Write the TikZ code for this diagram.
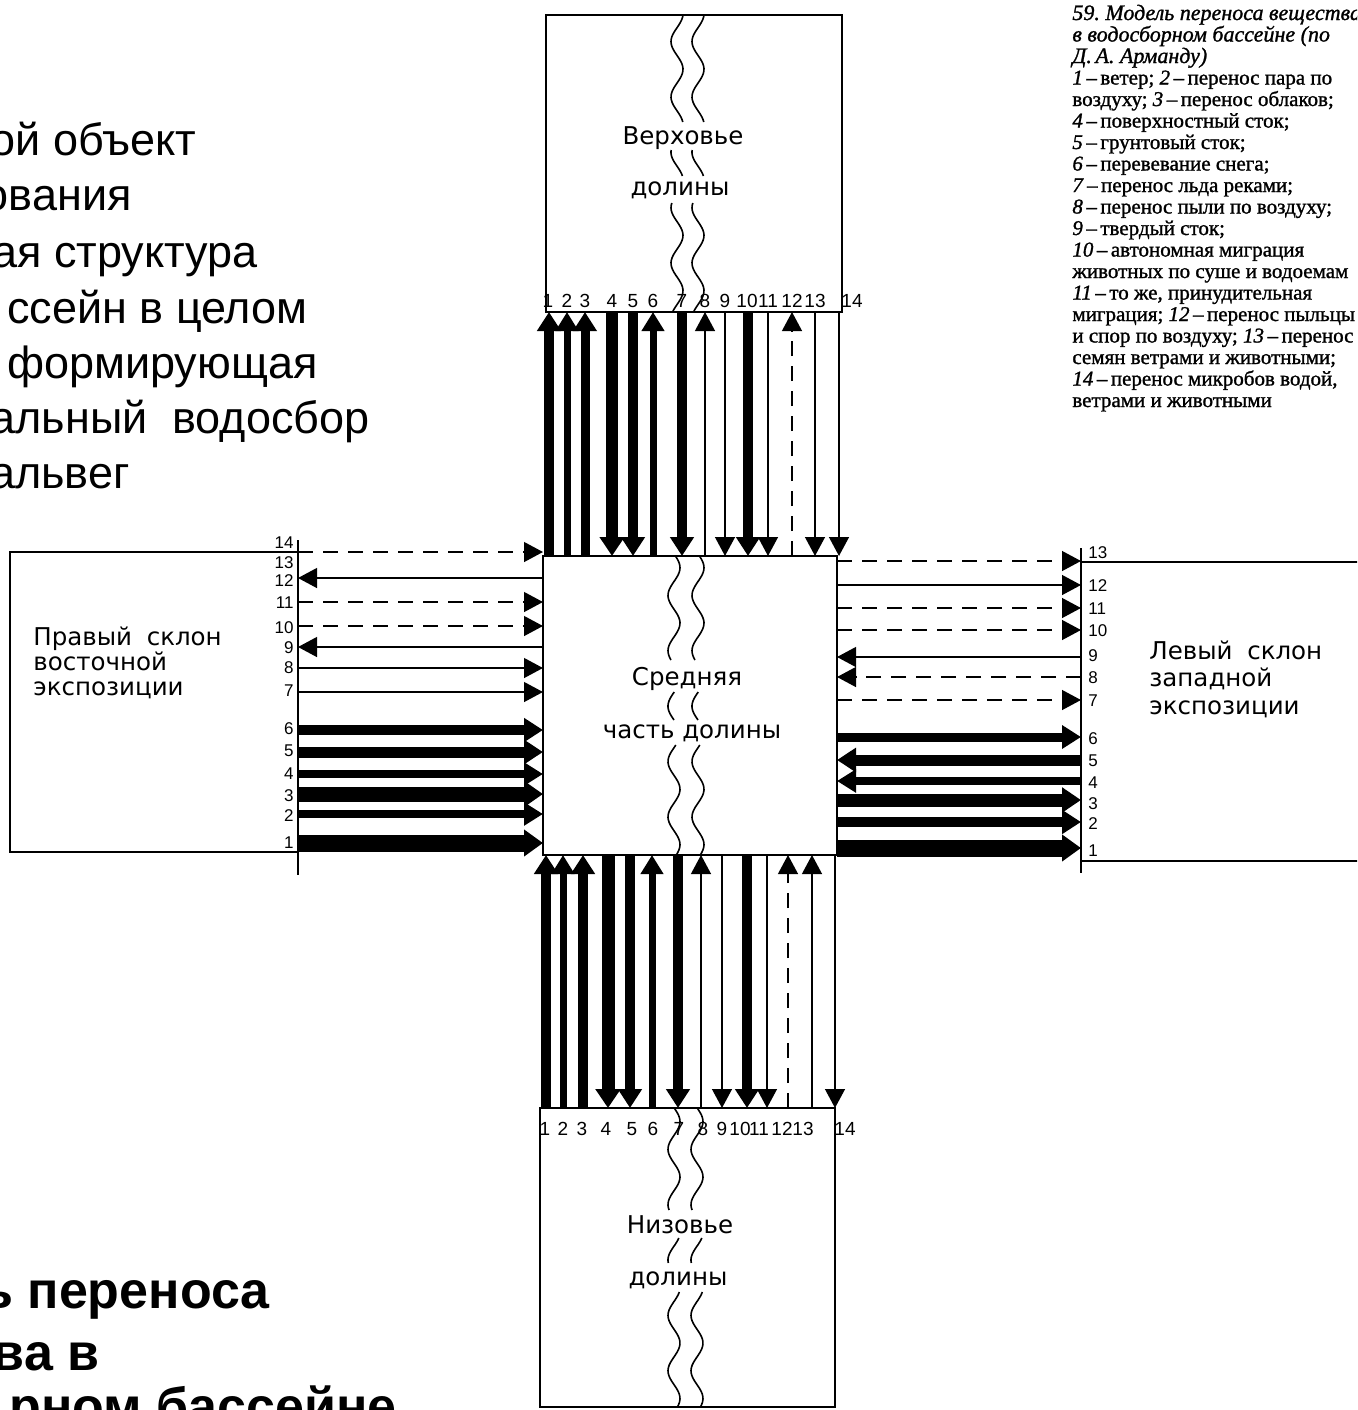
\documentclass[tikz,border=0pt]{standalone}
\usepackage{fontspec}
\setmainfont{Liberation Serif}
\newfontfamily\slidefont{Liberation Sans}
\newfontfamily\letfont{DejaVu Sans}
\newfontfamily\bookfont[FakeBold=1.2]{Liberation Serif}
\usetikzlibrary{arrows.meta}
\newcommand\wavyline[3]{\draw[rivline] plot[variable=\t, domain=#2:#3, samples=45, smooth] ({#1+6*sin(6.5*\t)},{\t});}
\begin{document}
\begin{tikzpicture}[x=0.5pt, y=-0.5pt,
  box/.style={draw=black, line width=1pt, inner sep=0pt, outer sep=0pt},
  arr/.style={-{Triangle[width=9.5pt 0.4, length=9.5pt]}},
  dsh/.style={dash pattern=on 7.5pt off 5pt},
  rivline/.style={line width=0.8pt},
  lbl/.style={font=\letfont\fontsize{12.25pt}{13pt}\selectfont, inner sep=0pt},
  num/.style={font=\slidefont\fontsize{9.5pt}{10pt}\selectfont, inner sep=0pt},
  snum/.style={font=\slidefont\fontsize{8.5pt}{9pt}\selectfont, inner sep=0pt},
  slide/.style={font=\slidefont\fontsize{22.5pt}{26pt}\selectfont, inner sep=0pt, anchor=base east},
  bslide/.style={font=\slidefont\bfseries\fontsize{26pt}{30pt}\selectfont, inner sep=0pt, anchor=base east},
  legend/.style={font=\bookfont\fontsize{10.5pt}{10.75pt}\selectfont, inner sep=0pt, anchor=base west},
  legendh/.style={font=\bookfont\fontsize{11pt}{11pt}\selectfont, inner sep=0pt, anchor=base west},
]
\useasboundingbox (0,0) rectangle (1357,1410);
\fill[white] (0,0) rectangle (1357,1410);
\clip (0,0) rectangle (1357,1410);

% boxes
\node[box, minimum width=148pt, minimum height=148.5pt] (top) at (694,163.5) {};
\node[box, minimum width=147pt, minimum height=149.5pt] (mid) at (690,705.5) {};
\node[box, minimum width=147.5pt, minimum height=149.5pt] (bot) at (687.5,1257.5) {};
\node[box, minimum width=144pt, minimum height=150pt] (lft) at (154,702) {};
\node[box, minimum width=159.5pt, minimum height=149.5pt] (rgt) at (1240.5,711.5) {};
\draw[box] (lft.east |- 0,540) -- (lft.east |- 0,875);
\draw[box] (rgt.west |- 0,548) -- (rgt.west |- 0,873);

% rivers
\wavyline{677}{15}{122}\wavyline{677}{150}{176}\wavyline{677}{203}{312}
\wavyline{698}{15}{122}\wavyline{698}{150}{176}\wavyline{698}{203}{312}
\wavyline{674}{556}{660}\wavyline{674}{692}{720}\wavyline{674}{745}{855}
\wavyline{698}{556}{660}\wavyline{698}{692}{720}\wavyline{698}{745}{855}
\wavyline{674}{1108}{1210}\wavyline{674}{1238}{1263}\wavyline{674}{1292}{1407}
\wavyline{697}{1108}{1210}\wavyline{697}{1238}{1263}\wavyline{697}{1292}{1407}

% box texts
\node[lbl, anchor=base] (tv1) at (683,144) {Верховье};
\node[lbl, anchor=base] (tv2) at (680,195) {долины};
\node[lbl, anchor=base] (mv1) at (687,685) {Средняя};
\node[lbl, anchor=base] (mv2) at (692,738) {часть долины};
\node[lbl, anchor=base] (bv1) at (680,1233) {Низовье};
\node[lbl, anchor=base] (bv2) at (678,1285) {долины};
\node[lbl, anchor=base west] (lt1) at (33,645) {Правый\hspace{0.6em}склон};
\node[lbl, anchor=base west] (lt2) at (33,670) {восточной};
\node[lbl, anchor=base west] (lt3) at (33,695) {экспозиции};
\node[lbl, anchor=base west] (rt1) at (1149,659) {Левый\hspace{0.6em}склон};
\node[lbl, anchor=base west] (rt2) at (1149,686) {западной};
\node[lbl, anchor=base west] (rt3) at (1149,714) {экспозиции};

% top vertical arrows
\foreach \x/\w/\a/\b/\s in {549/5/mid.north/top.south/solid, 567/3.5/mid.north/top.south/solid,
  585/4.5/mid.north/top.south/solid, 612/6/top.south/mid.north/solid, 633/5/top.south/mid.north/solid,
  653/3.5/mid.north/top.south/solid, 682/5/top.south/mid.north/solid, 705/1/mid.north/top.south/solid,
  725/1/top.south/mid.north/solid, 748/5/top.south/mid.north/solid, 768/1/top.south/mid.north/solid,
  792/1/mid.north/top.south/dsh, 815/1/top.south/mid.north/solid, 839/1/top.south/mid.north/solid}
  {\draw[arr, line width=\w pt, \s] (\x,0 |- \a) -- (\x,0 |- \b);}

% bottom vertical arrows
\foreach \x/\w/\a/\b/\s in {546/5/bot.north/mid.south/solid, 563/3.5/bot.north/mid.south/solid,
  583/5/bot.north/mid.south/solid, 608/6.5/mid.south/bot.north/solid, 630/5/mid.south/bot.north/solid,
  652/3.5/bot.north/mid.south/solid, 678/5/mid.south/bot.north/solid, 701/1/bot.north/mid.south/solid,
  722/1/mid.south/bot.north/solid, 747/5/mid.south/bot.north/solid, 767/1/mid.south/bot.north/solid,
  788/1/bot.north/mid.south/dsh, 812/1/bot.north/mid.south/solid, 835/1/mid.south/bot.north/solid}
  {\draw[arr, line width=\w pt, \s] (\x,0 |- \a) -- (\x,0 |- \b);}

% left horizontal arrows
\foreach \y/\w/\a/\b/\s in {552/1/lft.east/mid.west/dsh, 578/1/mid.west/lft.east/solid,
  602/1/lft.east/mid.west/dsh, 626/1/lft.east/mid.west/dsh, 647/1/mid.west/lft.east/solid,
  668/1/lft.east/mid.west/solid, 692/1/lft.east/mid.west/solid, 730/5/lft.east/mid.west/solid,
  752/5.5/lft.east/mid.west/solid, 774/4/lft.east/mid.west/solid, 794/7.5/lft.east/mid.west/solid,
  814/4/lft.east/mid.west/solid, 843/8.5/lft.east/mid.west/solid}
  {\draw[arr, line width=\w pt, \s] (\a |- 0,\y) -- (\b |- 0,\y);}

% right horizontal arrows
\foreach \y/\w/\a/\b/\s in {561/1/mid.east/rgt.west/dsh, 585/1/mid.east/rgt.west/solid,
  608/1/mid.east/rgt.west/dsh, 630/1/mid.east/rgt.west/dsh, 657/1/rgt.west/mid.east/solid,
  677/1/rgt.west/mid.east/dsh, 700/1/mid.east/rgt.west/dsh, 737/4.5/mid.east/rgt.west/solid,
  760/5.5/rgt.west/mid.east/solid, 781/4/rgt.west/mid.east/solid, 800/6.5/mid.east/rgt.west/solid,
  822/5/mid.east/rgt.west/solid, 848/8.5/mid.east/rgt.west/solid}
  {\draw[arr, line width=\w pt, \s] (\a |- 0,\y) -- (\b |- 0,\y);}

% number labels
\foreach \n/\x in {1/548,2/567,3/585,4/612,5/633,6/653,7/682,8/705,9/725,10/747,11/768,12/792,13/815,14/852}
  {\node[num, anchor=base] (tn\n) at (\x,307) {\n};}
\foreach \n/\x in {1/545,2/563,3/582,4/606,5/632,6/653,7/679,8/703,9/722,10/740,11/759,12/782,13/803,14/845}
  {\node[num, anchor=base] (bn\n) at (\x,1135) {\n};}
\foreach \n/\y in {14/548,13/568,12/586,11/608,10/633,9/653,8/673,7/696,6/734,5/756,4/779,3/801,2/821,1/848}
  {\node[snum, anchor=base east] (ln\n) at (294,\y) {\n};}
\foreach \n/\y in {13/558,12/591,11/614,10/636,9/661,8/683,7/706,6/744,5/766,4/788,3/809,2/829,1/856}
  {\node[snum, anchor=base west] (rn\n) at (1088,\y) {\n};}

% slide text, top left
\node[slide] (s1) at (197,155) {ой объект};
\node[slide] (s2) at (132,210) {ования};
\node[slide] (s3) at (258,267) {ая структура};
\node[slide] (s4) at (308,323) {ссейн в целом};
\node[slide] (s5) at (318,378) {формирующая};
\node[slide] (s6) at (370,433) {альный\ \ водосбор};
\node[slide] (s7) at (130,488) {альвег};

% slide text, bottom left
\node[bslide] (b1) at (270,1308) {ь переноса};
\node[bslide] (b2) at (100,1370) {ва в};
\node[bslide] (b3) at (397,1424) {рном бассейне};

% legend
\node[legendh] (lg0) at (1072,20) {\textit{59.\ Модель переноса вещества}};
\node[legendh] (lg1) at (1072,41.5) {\textit{в водосборном бассейне (по}};
\node[legendh] (lg2) at (1072,63) {\textit{Д.\,А. Арманду)}};
\node[legend] (lg3) at (1072,84.5) {\textit{1}\,–\,ветер; \textit{2}\,–\,перенос пара по};
\node[legend] (lg4) at (1072,106) {воздуху; \textit{3}\,–\,перенос облаков;};
\node[legend] (lg5) at (1072,127.5) {\textit{4}\,–\,поверхностный сток;};
\node[legend] (lg6) at (1072,149) {\textit{5}\,–\,грунтовый сток;};
\node[legend] (lg7) at (1072,170.5) {\textit{6}\,–\,перевевание снега;};
\node[legend] (lg8) at (1072,192) {\textit{7}\,–\,перенос льда реками;};
\node[legend] (lg9) at (1072,213.5) {\textit{8}\,–\,перенос пыли по воздуху;};
\node[legend] (lg10) at (1072,235) {\textit{9}\,–\,твердый сток;};
\node[legend] (lg11) at (1072,256.5) {\textit{10}\,–\,автономная миграция};
\node[legend] (lg12) at (1072,278) {животных по суше и водоемам};
\node[legend] (lg13) at (1072,299.5) {\textit{11}\,–\,то же, принудительная};
\node[legend] (lg14) at (1072,321) {миграция; \textit{12}\,–\,перенос пыльцы};
\node[legend] (lg15) at (1072,342.5) {и спор по воздуху; \textit{13}\,–\,перенос};
\node[legend] (lg16) at (1072,364) {семян ветрами и животными;};
\node[legend] (lg17) at (1072,385.5) {\textit{14}\,–\,перенос микробов водой,};
\node[legend] (lg18) at (1072,407) {ветрами и животными};
\end{tikzpicture}
\end{document}
